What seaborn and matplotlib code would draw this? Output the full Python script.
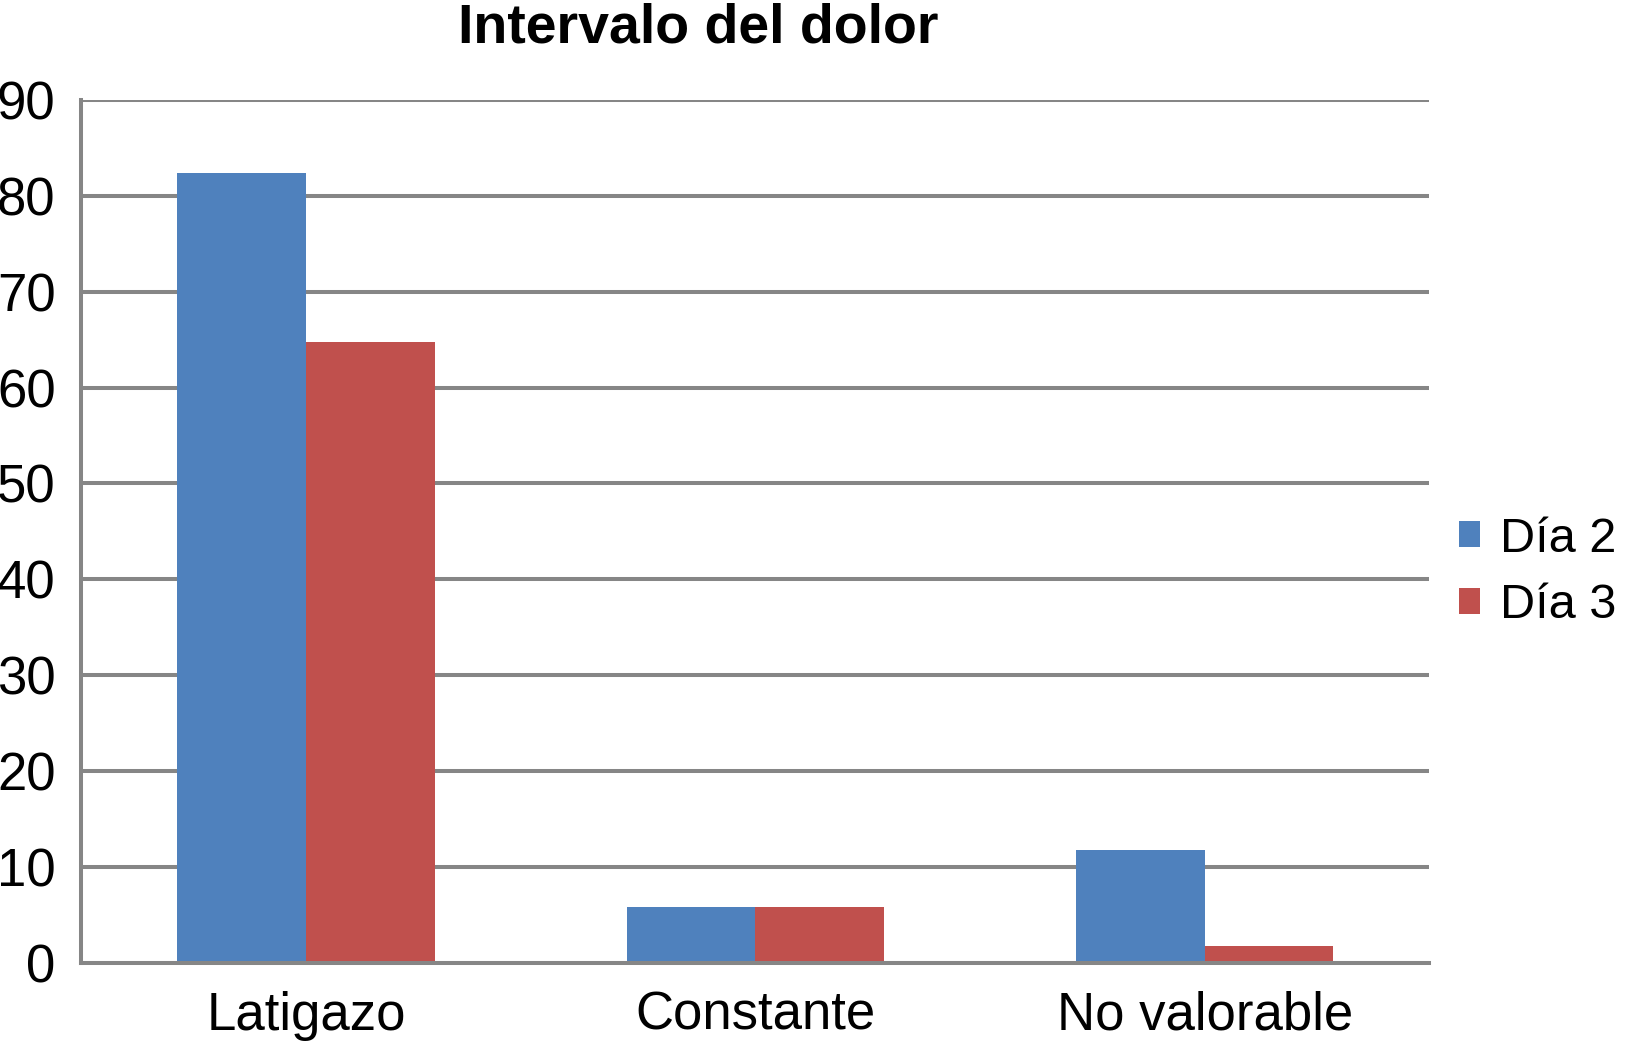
import pandas as pd
import matplotlib.pyplot as plt
import seaborn as sns

categorias = ["Latigazo", "Constante", "No valorable"]
dia2 = [82.35, 5.88, 11.76]
dia3 = [64.71, 5.88, 1.8]
series = ["Día 2", "Día 3"]

df = pd.DataFrame({
    "categoria": categorias * 2,
    "valor": dia2 + dia3,
    "serie": [series[0]] * 3 + [series[1]] * 3,
})

sns.set_style("white")
plt.rcParams['font.family'] = ['Liberation Sans', 'DejaVu Sans']
plt.rcParams['text.color'] = 'black'

gris = "#868686"
fig = plt.figure(figsize=(16.28, 10.41), dpi=100)
ax = fig.add_axes([0.050, 0.075, 0.828, 0.829])

sns.barplot(data=df, x="categoria", y="valor", hue="serie",
            palette=["#4F81BD", "#C0504D"], width=0.573, saturation=1,
            linewidth=0, ax=ax)

ax.set_ylim(0, 90)
ax.set_xlim(-0.5, 2.5)
ax.set_yticks(range(0, 91, 10))
ax.yaxis.grid(True, color=gris, linewidth=2.9)
ax.set_axisbelow(True)
ax.set_xlabel("")
ax.set_ylabel("")

for s in ["top", "right"]:
    ax.spines[s].set_visible(False)
for s in ["left", "bottom"]:
    ax.spines[s].set_color(gris)
    ax.spines[s].set_linewidth(2.9)

ax.tick_params(axis="y", length=8.6, width=2.9, color=gris, pad=10, labelsize=38, labelcolor="black")
ax.tick_params(axis="x", which="major", length=0, pad=20, labelsize=38, labelcolor="black")
ax.set_xticks([-0.5, 0.5, 1.5, 2.5], minor=True)
ax.tick_params(axis="x", which="minor", length=8.6, width=2.9, color=gris)

fig.text(0.429, 0.973, "Intervalo del dolor", ha="center", va="center",
         fontsize=40, fontweight="bold", color="black")

handles, labels = ax.get_legend_handles_labels()
ax.legend(handles, labels, loc="center left", bbox_to_anchor=(0.884, 0.45),
          bbox_transform=fig.transFigure, frameon=False, fontsize=35,
          handlelength=0.45, handleheight=0.45, handletextpad=0.4,
          labelspacing=0.45, borderaxespad=0)

plt.savefig("out.png", dpi=100)
